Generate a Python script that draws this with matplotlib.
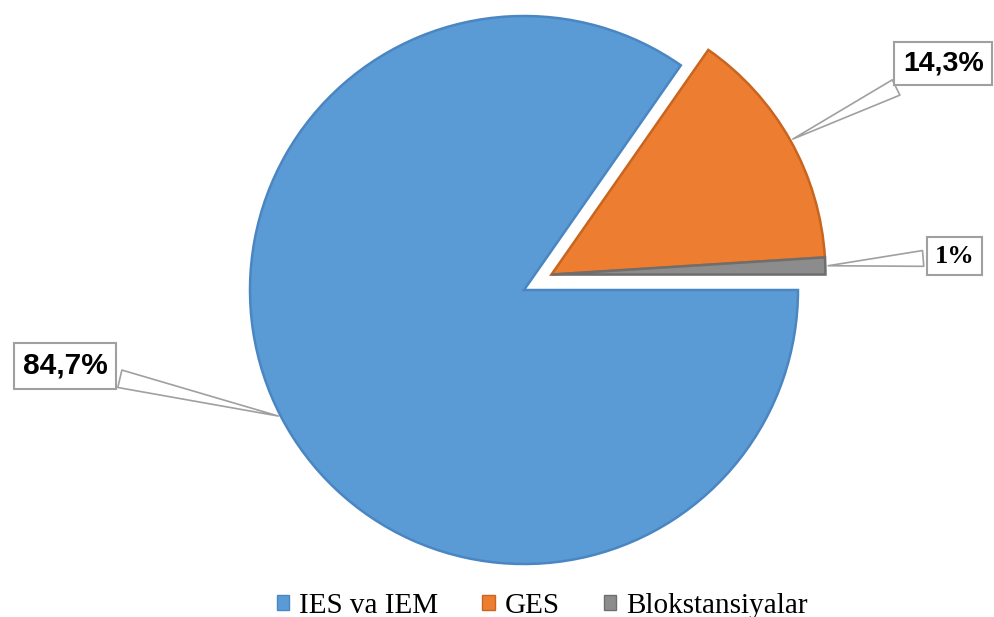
"""Pie chart: energy production shares"""

import numpy as np
import matplotlib.pyplot as plt
from matplotlib.patches import Patch

labels = ["IES va IEM", "GES", "Blokstansiyalar"]
shares = [84.7, 14.3, 1.0]
share_text = ["84,7%", "14,3%", "1%"]
colors = ["#5B9BD5", "#ED7D31", "#8C8C8C"]
edges = ["#4A86C2", "#C8651F", "#6E6E6E"]

fig = plt.figure(figsize=(9.95, 6.17), dpi=100)
ax = fig.add_axes([0, 0, 1, 1])

wedges, _ = ax.pie(
    shares,
    colors=colors,
    startangle=0,
    counterclock=False,
    explode=[0, 0.115, 0.115],
    radius=1.0,
)
# gray slice moves together with the orange one
wedges[2].set_center(wedges[1].center)

for w, ec in zip(wedges, edges):
    w.set_edgecolor(ec)
    w.set_linewidth(1.8)
for w in wedges[1:]:
    w.set_zorder(3)

ax.set_aspect("auto")
ax.set_xlim(-524 / 274, (995 - 524) / 274)
ax.set_ylim(-(617 - 290) / 274, 290 / 274)
ax.axis("off")

text_pos = [(-1.675, -0.277), (1.53, 0.825), (1.571, 0.124)]
fonts = [
    dict(family="Liberation Sans", weight="bold", size=21.5),
    dict(family="Liberation Sans", weight="bold", size=20.5),
    dict(family="Liberation Serif", weight="bold", size=19),
]
for w, txt, pos, fnt in zip(wedges, share_text, text_pos, fonts):
    mid = np.deg2rad((w.theta1 + w.theta2) / 2)
    cx, cy = w.center
    tip = (cx + w.r * np.cos(mid), cy + w.r * np.sin(mid))
    ax.annotate(
        txt, xy=tip, xytext=pos, ha="center", va="center",
        bbox=dict(boxstyle="square,pad=0.3", fc="white", ec="#A0A0A0", lw=1.5),
        arrowprops=dict(arrowstyle="wedge,tail_width=0.6,shrink_factor=0.5",
                        fc="white", ec="#A0A0A0", lw=1.2),
        zorder=5, **fnt,
    )

handles = [Patch(facecolor=c, edgecolor=e) for c, e in zip(colors, edges)]
fig.legend(
    handles, labels, loc="lower center", bbox_to_anchor=(0.545, -0.045),
    ncol=3, frameon=False, handlelength=0.42, handleheight=0.42,
    handletextpad=0.35, columnspacing=1.5,
    prop=dict(family="Liberation Serif", size=21),
)

fig.savefig("out.png", dpi=100)
